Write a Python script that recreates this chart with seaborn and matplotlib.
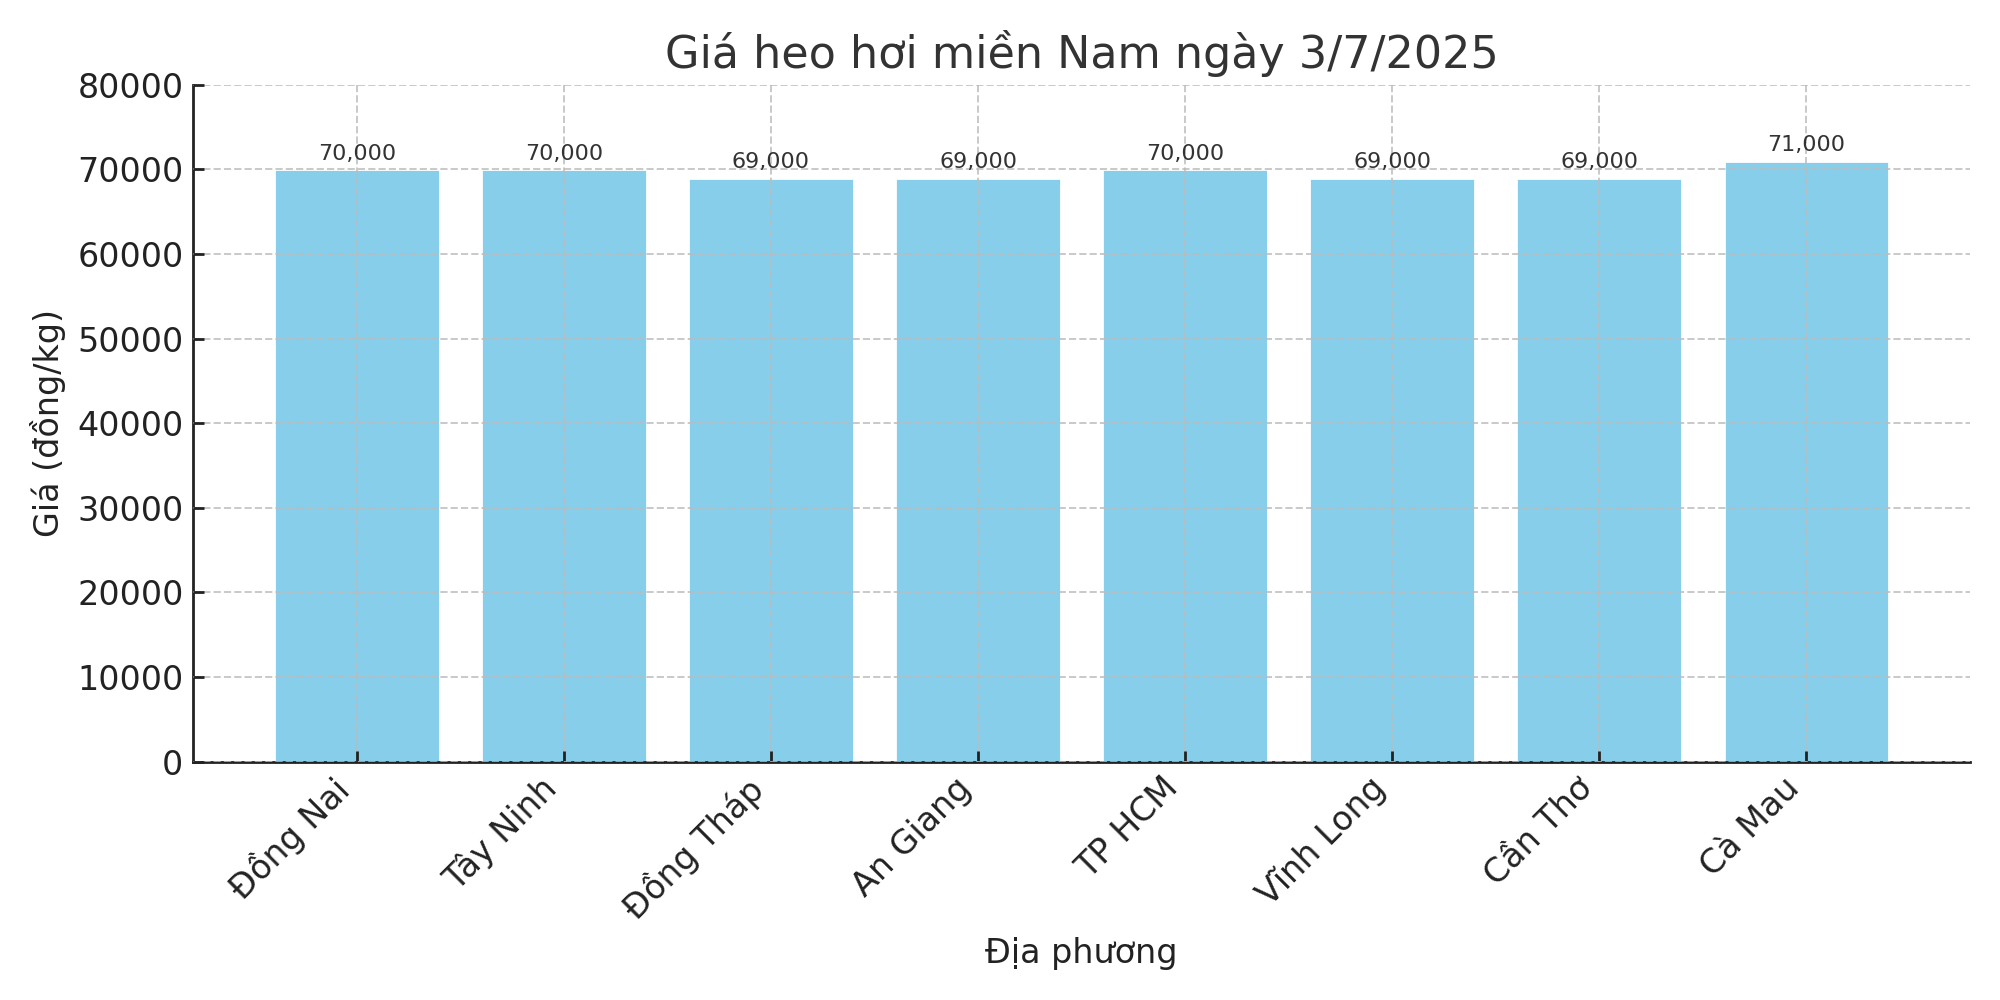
import pandas as pd
import seaborn as sns
import matplotlib.pyplot as plt

# data
provinces = ['Đồng Nai', 'Tây Ninh', 'Đồng Tháp', 'An Giang',
             'TP HCM', 'Vĩnh Long', 'Cần Thơ', 'Cà Mau']
prices = [70000, 70000, 69000, 69000, 70000, 69000, 69000, 71000]

sns.set_style("white")
plt.rcParams['font.family'] = ['DejaVu Sans']

df = pd.DataFrame({'province': provinces, 'price': prices})

fig, ax = plt.subplots(figsize=(10, 5), dpi=200)
sns.barplot(data=df, x='province', y='price', color='skyblue',
            saturation=1, width=0.8, ax=ax)

for c in ax.containers:
    ax.bar_label(c, labels=['{:,.0f}'.format(v) for v in c.datavalues],
                 padding=2, fontsize=8, color='#333333')

ax.set_xlim(-0.79, len(provinces) - 0.21)
ax.set_ylim(0, 80000)
ax.grid(True, linestyle='--', color='#bbbbbb', linewidth=0.7, alpha=0.8)
ax.set_axisbelow(False)

ax.set_title('Giá heo hơi miền Nam ngày 3/7/2025', fontsize=16,
             color='#333333')
ax.set_xlabel('Địa phương', fontsize=12, color='#222222')
ax.set_ylabel('Giá (đồng/kg)', fontsize=12, color='#222222')
ax.tick_params(axis='both', direction='in', labelsize=12, length=4,
               width=1, colors='#222222', bottom=True, left=True)
plt.setp(ax.get_xticklabels(), rotation=45, ha='right')

sns.despine(ax=ax)
for s in ['left', 'bottom']:
    ax.spines[s].set_color('#222222')
    ax.spines[s].set_linewidth(1.0)

plt.tight_layout()
plt.savefig('out.png')
